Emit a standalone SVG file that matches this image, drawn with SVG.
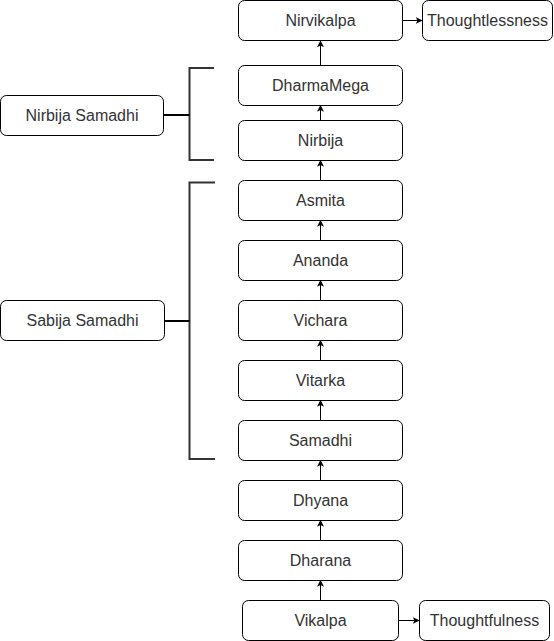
<svg xmlns="http://www.w3.org/2000/svg" width="554" height="641" viewBox="0 0 554 641">
<defs>
<marker id="ah" viewBox="0 0 10 10" refX="9" refY="5" markerWidth="7" markerHeight="7" markerUnits="userSpaceOnUse" orient="auto">
<path d="M0,0 L10,5 L0,10 L2.5,5 Z" fill="#000"/>
</marker>
</defs>
<style>
.box{fill:#fff;stroke:#000;stroke-width:1}
.t{font-family:"Liberation Sans",Arial,sans-serif;font-size:16px;fill:#333;text-anchor:middle;dominant-baseline:central}
.c{stroke:#000;stroke-width:1;fill:none;marker-end:url(#ah)}
.br{stroke:#333;stroke-width:2;fill:none}
.bl{stroke:#000;stroke-width:2;fill:none}
</style>
<rect width="554" height="641" fill="#fff"/>
<g id="connectors">
<line class="c" x1="320.5" y1="65" x2="320.5" y2="41"/>
<line class="c" x1="320.5" y1="120" x2="320.5" y2="105.5"/>
<line class="c" x1="320.5" y1="180" x2="320.5" y2="160.5"/>
<line class="c" x1="320.5" y1="240" x2="320.5" y2="220.5"/>
<line class="c" x1="320.5" y1="300" x2="320.5" y2="280.5"/>
<line class="c" x1="320.5" y1="360" x2="320.5" y2="340.5"/>
<line class="c" x1="320.5" y1="420" x2="320.5" y2="400.5"/>
<line class="c" x1="320.5" y1="480" x2="320.5" y2="460.5"/>
<line class="c" x1="320.5" y1="540" x2="320.5" y2="520.5"/>
<line class="c" x1="320.5" y1="600" x2="320.5" y2="580.5"/>
<line class="c" x1="402.5" y1="20.5" x2="422" y2="20.5"/>
<line class="c" x1="398.5" y1="620.5" x2="419" y2="620.5"/>
<path class="br" d="M214,68 H189.5 V160 H214"/>
<path class="br" d="M215,182.5 H189.5 V459 H215"/>
<line class="bl" x1="163.5" y1="115" x2="189.5" y2="115"/>
<line class="bl" x1="164.5" y1="321" x2="189.5" y2="321"/>
</g>
<g id="nirvikalpa"><rect class="box" x="238.5" y="0.5" width="164" height="40" rx="6"/><text class="t" x="320.5" y="20.5">Nirvikalpa</text></g>
<g id="thoughtlessness"><rect class="box" x="422.5" y="0.5" width="130" height="40" rx="6"/><text class="t" x="487.5" y="20.5">Thoughtlessness</text></g>
<g id="dharmamega"><rect class="box" x="238.5" y="65.5" width="164" height="40" rx="6"/><text class="t" x="320.5" y="85.5">DharmaMega</text></g>
<g id="nirbija"><rect class="box" x="238.5" y="120.5" width="164" height="40" rx="6"/><text class="t" x="320.5" y="140.5">Nirbija</text></g>
<g id="nirbija-samadhi"><rect class="box" x="0.5" y="95.5" width="163" height="40" rx="6"/><text class="t" x="82" y="115.5">Nirbija Samadhi</text></g>
<g id="asmita"><rect class="box" x="238.5" y="180.5" width="164" height="40" rx="6"/><text class="t" x="320.5" y="200.5">Asmita</text></g>
<g id="ananda"><rect class="box" x="238.5" y="240.5" width="164" height="40" rx="6"/><text class="t" x="320.5" y="260.5">Ananda</text></g>
<g id="vichara"><rect class="box" x="238.5" y="300.5" width="164" height="40" rx="6"/><text class="t" x="320.5" y="320.5">Vichara</text></g>
<g id="sabija-samadhi"><rect class="box" x="0.5" y="300.5" width="164" height="40" rx="6"/><text class="t" x="82.5" y="320.5">Sabija Samadhi</text></g>
<g id="vitarka"><rect class="box" x="238.5" y="360.5" width="164" height="40" rx="6"/><text class="t" x="320.5" y="380.5">Vitarka</text></g>
<g id="samadhi"><rect class="box" x="238.5" y="420.5" width="164" height="40" rx="6"/><text class="t" x="320.5" y="440.5">Samadhi</text></g>
<g id="dhyana"><rect class="box" x="238.5" y="480.5" width="164" height="40" rx="6"/><text class="t" x="320.5" y="500.5">Dhyana</text></g>
<g id="dharana"><rect class="box" x="238.5" y="540.5" width="164" height="40" rx="6"/><text class="t" x="320.5" y="560.5">Dharana</text></g>
<g id="vikalpa"><rect class="box" x="242.5" y="600.5" width="156" height="40" rx="6"/><text class="t" x="320.5" y="620.5">Vikalpa</text></g>
<g id="thoughtfulness"><rect class="box" x="419.5" y="600.5" width="130" height="40" rx="6"/><text class="t" x="484.5" y="620.5">Thoughtfulness</text></g>
</svg>
